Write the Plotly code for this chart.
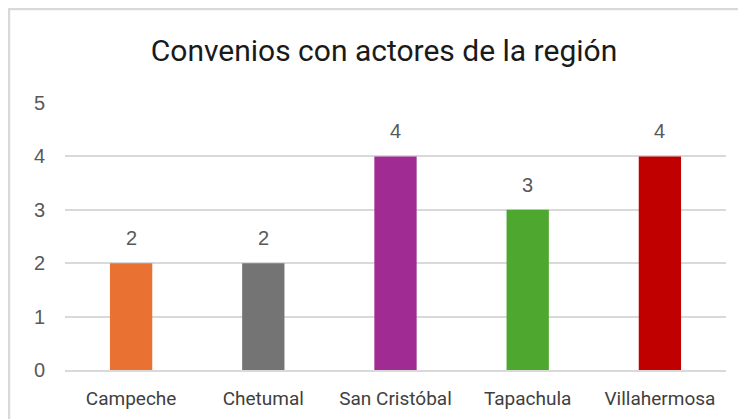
import plotly.graph_objects as go

categories = ["Campeche", "Chetumal", "San Cristóbal", "Tapachula", "Villahermosa"]
values = [2, 2, 4, 3, 4]
colors = ["#E97132", "#747474", "#A02B93", "#4EA72E", "#C00000"]
y_ticks = [0, 1, 2, 3, 4, 5]

OFF = 8  # page body margin
W, H = 746 - OFF, 419 - OFF
ML, MT = 65 - OFF, 103 - OFF
pw, ph = 661, 267
MR, MB = W - ML - pw, H - MT - ph

fig = go.Figure(go.Bar(
    x=categories, y=values, marker=dict(color=colors, line=dict(width=0)),
    hoverinfo="skip",
))

for c, v in zip(categories, values):
    fig.add_annotation(x=c, y=v, text=str(v), showarrow=False, yanchor="bottom",
                       yshift=12, font=dict(size=20, color="#595959", family="Liberation Sans"))

def px_x(p):
    return (p - OFF - ML) / pw

def px_y(p):
    return (H - MB - (p - OFF)) / ph

fig.add_shape(type="rect", xref="paper", yref="paper",
              x0=px_x(9), x1=px_x(746 + 20), y0=px_y(419 + 20), y1=px_y(9),
              line=dict(color="#D9D9D9", width=2.5), fillcolor="rgba(0,0,0,0)", layer="below")

fig.update_layout(
    width=W, height=H,
    margin=dict(l=ML, r=MR, t=MT, b=MB),
    paper_bgcolor="white", plot_bgcolor="white",
    bargap=0.68,
    showlegend=False,
    title=dict(text="Convenios con actores de la región", x=px_x(384), xref="paper",
               xanchor="center", y=1 - (50 - OFF) / H, yanchor="middle",
               font=dict(size=30, color="#1a1a1a", family="Roboto")),
    xaxis=dict(showgrid=False, showline=True, linecolor="#D9D9D9", linewidth=1.5,
               ticks="", ticklabelstandoff=10, automargin=False,
               tickfont=dict(size=19, color="#404040", family="Roboto"),
               fixedrange=True),
    yaxis=dict(range=[0, 5], tickvals=y_ticks, showgrid=True, gridcolor="#D9D9D9",
               gridwidth=1.5, zeroline=False, showline=False, ticks="",
               ticklabelstandoff=19, automargin=False,
               tickfont=dict(size=20, color="#595959", family="Liberation Sans"),
               fixedrange=True),
)

fig.write_html("out.html")
